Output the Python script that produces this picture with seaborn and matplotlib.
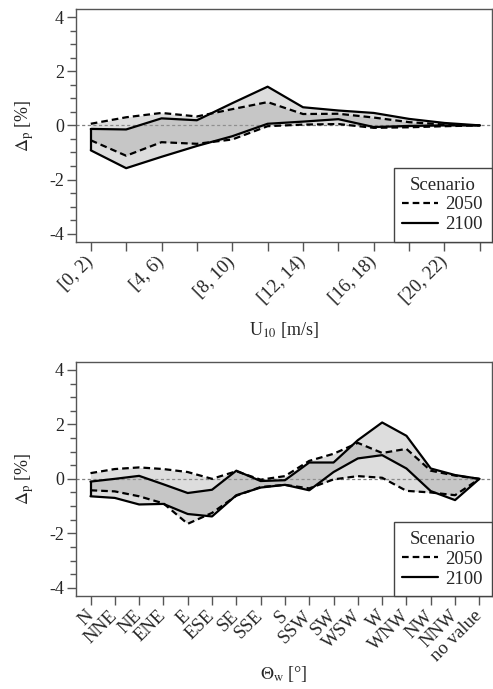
import numpy as np
import pandas as pd
import matplotlib
matplotlib.use("Agg")
import matplotlib.pyplot as plt
import seaborn as sns
from matplotlib.lines import Line2D
from matplotlib.ticker import MultipleLocator

# ---------------- data ----------------
u10_bins = ["[0, 2)", "[2, 4)", "[4, 6)", "[6, 8)", "[8, 10)", "[10, 12)",
            "[12, 14)", "[14, 16)", "[16, 18)", "[18, 20)", "[20, 22)", "[22, 24)"]
u10_ticklabels = ["[0, 2)", "", "[4, 6)", "", "[8, 10)", "",
                  "[12, 14)", "", "[16, 18)", "", "[20, 22)", ""]
u10_up2050 = [0.06, 0.30, 0.46, 0.33, 0.60, 0.86, 0.42, 0.43, 0.29, 0.12, 0.03, 0.0]
u10_lo2050 = [-0.55, -1.12, -0.62, -0.68, -0.52, -0.03, 0.03, 0.05, -0.09, -0.07, -0.03, 0.0]
u10_up2100 = [-0.13, -0.15, 0.26, 0.19, 0.82, 1.43, 0.67, 0.55, 0.46, 0.24, 0.09, 0.0]
u10_lo2100 = [-0.92, -1.58, -1.16, -0.76, -0.40, 0.06, 0.14, 0.23, -0.06, -0.02, 0.0, 0.0]

dir_bins = ["N", "NNE", "NE", "ENE", "E", "ESE", "SE", "SSE", "S", "SSW",
            "SW", "WSW", "W", "WNW", "NW", "NNW", "no value"]
dir_up2050 = [0.21, 0.36, 0.42, 0.36, 0.25, 0.0, 0.28, -0.03, 0.10, 0.66, 0.92, 1.32, 0.95, 1.10, 0.30, 0.12, 0.0]
dir_lo2050 = [-0.42, -0.46, -0.64, -0.90, -1.65, -1.25, -0.62, -0.30, -0.22, -0.35, -0.02, 0.10, 0.04, -0.44, -0.50, -0.60, 0.0]
dir_up2100 = [-0.10, 0.0, 0.11, -0.20, -0.52, -0.40, 0.30, -0.08, -0.05, 0.60, 0.60, 1.42, 2.07, 1.58, 0.38, 0.14, 0.0]
dir_lo2100 = [-0.64, -0.70, -0.94, -0.92, -1.29, -1.38, -0.60, -0.32, -0.22, -0.42, 0.25, 0.75, 0.87, 0.38, -0.45, -0.78, 0.0]

scenarios = ["2050", "2100"]

# ---------------- style ----------------
sns.set_style("ticks")
plt.rcParams["font.family"] = ["Liberation Serif", "DejaVu Serif"]
plt.rcParams["mathtext.fontset"] = "stix"
plt.rcParams["axes.unicode_minus"] = False

DASH = (3.0, 1.8)
LW = 1.6
FRAME = "#555555"

fig = plt.figure(figsize=(4.93, 6.89), dpi=100)
ax1 = fig.add_axes([0.154, 0.649, 0.843, 0.338])
ax2 = fig.add_axes([0.154, 0.135, 0.843, 0.340])


def draw(ax, cats, ticklabels, up50, lo50, up00, lo00, xlabel, xlim, xlab_y):
    n = len(cats)
    pos = np.arange(n)
    ax.axhline(0, color="#808080", lw=0.9, ls=(0, (2.5, 2.0)), zorder=1)
    for up, lo in [(up50, lo50), (up00, lo00)]:
        ax.fill_between(pos, lo, up, color="0.61", alpha=0.34, lw=0, zorder=2)

    rows = []
    for sc, up, lo in [("2050", up50, lo50), ("2100", up00, lo00)]:
        for b, vals in [("upper", up), ("lower", lo)]:
            for i, v in enumerate(vals):
                rows.append({"pos": i, "value": v, "Scenario": sc, "bound": sc + b})
    df = pd.DataFrame(rows)
    sns.lineplot(data=df, x="pos", y="value", units="bound", style="Scenario",
                 estimator=None, color="black", dashes={"2050": DASH, "2100": ""},
                 lw=LW, ax=ax, legend=False, zorder=3)
    ax.vlines(0, lo00[0], up00[0], color="black", lw=LW, zorder=3)

    ax.set_xlim(*xlim)
    ax.set_ylim(-4.3, 4.3)
    ax.yaxis.set_major_locator(MultipleLocator(2))
    ax.yaxis.set_minor_locator(MultipleLocator(0.5))
    ax.set_xticks(pos)
    ax.set_xticklabels(ticklabels, rotation=45, ha="right", va="center",
                       rotation_mode="anchor", fontsize=13.5)
    ax.tick_params(axis="x", length=6.5, width=1.0, color=FRAME, pad=6)
    ax.tick_params(axis="y", which="major", length=6.5, width=1.0, color=FRAME,
                   labelsize=13, pad=2)
    ax.tick_params(axis="y", which="minor", length=4.2, width=1.0, color=FRAME)
    for s in ax.spines.values():
        s.set_visible(True)
        s.set_color(FRAME)
        s.set_linewidth(1.0)
    ax.set_xlabel(xlabel, fontsize=13)
    ax.xaxis.set_label_coords(0.5, xlab_y)
    ax.set_ylabel(r"$\Delta_\mathrm{p}$ [%]", fontsize=13)
    ax.yaxis.set_label_coords(-0.095, 0.5)

    handles = [Line2D([], [], color="black", lw=LW, dashes=DASH),
               Line2D([], [], color="black", lw=LW)]
    leg = ax.legend(handles, scenarios, title="Scenario", loc="lower right",
                    borderaxespad=0, fancybox=False, framealpha=1,
                    edgecolor="#444444", fontsize=13.5, title_fontsize=13.5,
                    handlelength=1.9, handletextpad=0.4, labelspacing=0.15,
                    borderpad=0.45)
    leg.get_frame().set_linewidth(1.0)


draw(ax1, u10_bins, u10_ticklabels, u10_up2050, u10_lo2050, u10_up2100, u10_lo2100,
     r"U$_{10}$ [m/s]", (-0.42, 11.33), -0.335)
draw(ax2, dir_bins, dir_bins, dir_up2050, dir_lo2050, dir_up2100, dir_lo2100,
     r"$\Theta_\mathrm{w}$ [°]", (-0.6, 16.5), -0.29)

fig.savefig("out.png", dpi=100)
